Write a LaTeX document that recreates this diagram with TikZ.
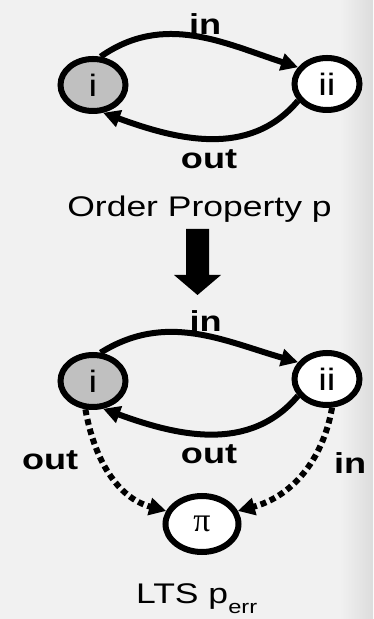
\documentclass[tikz,border=0pt]{standalone}
\usepackage{fontspec}
\setmainfont[FakeStretch=1.25]{Liberation Sans}
\newfontfamily\pifont{Liberation Serif}
\usetikzlibrary{arrows.meta,shapes.geometric,positioning}
\definecolor{stfill}{RGB}{192,192,192}
\definecolor{bgmain}{RGB}{241,241,241}
\definecolor{bgedge}{RGB}{220,220,220}

\tikzset{
  stnode/.style={ellipse,draw,line width=6bp,minimum width=65bp,minimum height=52bp,
    inner sep=0pt,font=\fontsize{31}{31}\selectfont},
  trans/.style={line width=6bp,-{Triangle[length=17bp,width=17bp]}},
  errtrans/.style={trans,dash pattern=on 6bp off 4bp},
  lbl/.style={font=\fontsize{29}{29}\selectfont\bfseries,inner sep=1bp},
  caption/.style={font=\fontsize{28.5}{28.5}\selectfont,inner sep=0pt,anchor=base},
}

\begin{document}
\begin{tikzpicture}[x=1bp,y=1bp]
  \fill[bgmain] (0,0) rectangle (373,619);
  \shade[left color=bgmain,right color=bgedge] (340,0) rectangle (373,619);
  \useasboundingbox (0,0) rectangle (373,619);

  % order property p
  \node[stnode,fill=stfill] (pi) at (93,534) {i};
  \node[stnode,fill=white] (pii) at (327,535) {ii};
  \draw[trans] (pi.75) to[out=35,in=162] node[lbl,above,pos=0.55]{in} (pii.150);
  \draw[trans] (pii.-150) to[out=-130,in=-20] node[lbl,below=7bp]{out} (pi.-70);
  \node[caption] (ptitle) at (199.5,402) {Order Property p};

  % block arrow down to the error LTS
  \fill (186,390) -- (209,390) -- (209,344) -- (221,344) -- (197.5,324)
    -- (174,344) -- (186,344) -- cycle;

  % LTS p_err with the error state
  \node[stnode,fill=stfill] (ei) at (93,238) {i};
  \node[stnode,fill=white] (eii) at (327,240) {ii};
  \node[stnode,fill=white,minimum width=73bp,minimum height=56bp,
    font=\fontsize{34}{34}\pifont] (epi) at (202,95) {π};
  \draw[trans] (ei.75) to[out=32,in=164] node[lbl,above,pos=0.55]{in} (eii.150);
  \draw[trans] (eii.-150) to[out=-130,in=-20] node[lbl,below=7bp]{out} (ei.-70);
  \draw[errtrans] (ei.-105) to[out=-80,in=165] node[lbl,left=20bp,pos=0.38]{out} (epi.160);
  \draw[errtrans] (eii.-80) to[out=-100,in=15] node[lbl,right=20bp,pos=0.4]{in} (epi.20);
  \node[caption,anchor=base west] (etitle) at (136,15)
    {LTS p\raisebox{-10bp}{\fontsize{19}{19}\selectfont err}};
\end{tikzpicture}
\end{document}
